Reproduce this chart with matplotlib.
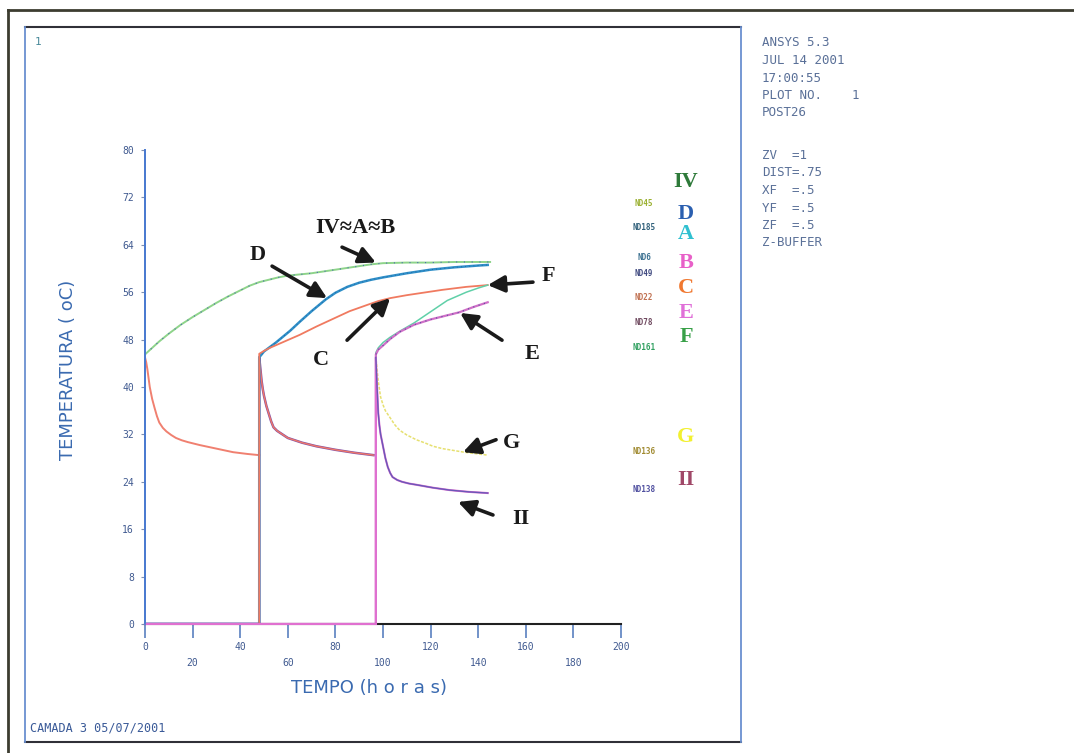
import matplotlib
matplotlib.use("Agg")
import matplotlib.pyplot as plt
from matplotlib.lines import Line2D

W, H = 1074, 753

# --- temperaturas nodais (horas, oC) ---
t_IV = [0, 3, 6, 10, 15, 20, 25, 30, 35, 40, 44, 48, 52, 56, 60, 65, 70, 75, 80, 85, 90, 95, 100, 110, 120, 130, 140, 145]
T_IV = [45.5, 46.6, 47.7, 49.0, 50.5, 51.8, 53.0, 54.2, 55.3, 56.3, 57.1, 57.7, 58.1, 58.5, 58.8, 59.0, 59.2, 59.5, 59.8, 60.1, 60.4, 60.7, 60.9, 61.0, 61.0, 61.1, 61.1, 61.1]

t_D = [48, 50, 52, 55, 58, 61, 65, 70, 76, 80, 85, 90, 95, 100, 110, 120, 130, 140, 144]
T_D = [45.0, 46.0, 46.6, 47.5, 48.5, 49.5, 51.0, 52.8, 54.8, 55.9, 56.9, 57.6, 58.1, 58.5, 59.2, 59.8, 60.2, 60.5, 60.6]

t_C = [48, 50, 53, 57, 61, 65, 72, 79, 86, 93, 98, 103, 110, 115, 125, 135, 144]
T_C = [45.6, 46.1, 46.7, 47.4, 48.1, 48.8, 50.2, 51.5, 52.8, 53.8, 54.5, 55.0, 55.5, 55.8, 56.4, 56.9, 57.2]

t_F = [97, 98, 100, 103, 107, 113, 120, 127, 135, 140, 144]
T_F = [45.8, 46.6, 47.5, 48.4, 49.4, 50.8, 52.7, 54.6, 56.0, 56.7, 57.2]

t_E = [97, 98, 100, 103, 107, 113, 120, 127, 132, 138, 144]
T_E = [45.5, 46.3, 47.0, 48.1, 49.3, 50.5, 51.4, 52.1, 52.6, 53.5, 54.3]

t_G = [97, 98, 99, 100, 101, 103, 105, 107, 110, 114, 118, 121, 125, 128, 134, 140, 144]
T_G = [45.0, 41.0, 38.3, 37.0, 36.0, 34.8, 33.6, 32.7, 31.9, 31.1, 30.5, 30.0, 29.6, 29.4, 29.0, 28.7, 28.5]

t_II = [97, 97.5, 98, 98.5, 99, 100, 101, 102, 103, 104, 106, 108, 111, 114, 121, 128, 136, 144]
T_II = [45.0, 40.0, 35.6, 33.5, 32.0, 30.0, 28.0, 26.5, 25.5, 24.8, 24.3, 24.0, 23.7, 23.5, 23.0, 22.6, 22.3, 22.1]

# superficie das camadas 1 e 2 (resfriamento)
t_sup1 = [0, 0.5, 1, 1.5, 2, 3, 4, 5, 6, 7.5, 9, 11, 13, 15.5, 18, 23, 30, 37, 43, 48]
T_sup1 = [45.0, 44.2, 43.0, 41.5, 40.0, 38.0, 36.5, 35.1, 34.0, 33.1, 32.5, 31.9, 31.4, 31.0, 30.7, 30.2, 29.6, 29.0, 28.7, 28.5]
t_sup2 = [48, 48.5, 49, 49.5, 50, 51, 52, 53, 54, 55.5, 57, 60, 63, 66, 72, 80, 88, 96]
T_sup2 = [45.0, 43.0, 41.0, 39.6, 38.5, 36.8, 35.5, 34.2, 33.2, 32.6, 32.2, 31.4, 31.0, 30.6, 30.0, 29.4, 28.9, 28.5]

y_ticks = [0, 8, 16, 24, 32, 40, 48, 56, 64, 72, 80]
x_ticks = [0, 20, 40, 60, 80, 100, 120, 140, 160, 180, 200]

nd_labels = ["ND45", "ND185", "ND6", "ND49", "ND22", "ND78", "ND161", "ND136", "ND138"]
nd_colors = ["#9ab030", "#30607a", "#3a7090", "#404a80", "#c07050", "#704a60", "#30a060", "#a08a30", "#5050a0"]
nd_y = [203, 227, 258, 273, 298, 322, 347, 452, 490]

letters = ["IV", "D", "A", "B", "C", "E", "F", "G", "II"]
letter_colors = ["#2e7a3a", "#2a5fb0", "#30c0d0", "#e860c8", "#f07830", "#e070d8", "#38a048", "#f2f030", "#a04868"]
letter_y = [182, 214, 234, 263, 288, 313, 337, 437, 480]

info_lines = ["ANSYS 5.3", "JUL 14 2001", "17:00:55", "PLOT NO.    1", "POST26", "",
              "ZV  =1", "DIST=.75", "XF  =.5", "YF  =.5", "ZF  =.5", "Z-BUFFER"]


def born(t, T):
    # no que nasce em t[0]: temperatura zero antes disso
    return [0, t[0]] + list(t), [0, 0] + list(T)


def fx(x):
    return x / W


def fy(y):
    return 1 - y / H


fig = plt.figure(figsize=(W / 100, H / 100), dpi=100)
fig.patch.set_facecolor("white")

# molduras
fig.add_artist(Line2D([fx(8), 1], [fy(10), fy(10)], color="#3c3c30", lw=2))
fig.add_artist(Line2D([fx(8), fx(8)], [fy(10), 0], color="#3c3c30", lw=2))
fig.add_artist(Line2D([fx(25), fx(741)], [fy(27), fy(27)], color="#303038", lw=1.5))
fig.add_artist(Line2D([fx(25), fx(741)], [fy(742), fy(742)], color="#303038", lw=1.5))
fig.add_artist(Line2D([fx(25), fx(25)], [fy(27), fy(742)], color="#6a90d0", lw=1.3))
fig.add_artist(Line2D([fx(741), fx(741)], [fy(27), fy(742)], color="#6a90d0", lw=1.3))

ax = fig.add_axes([fx(145), fy(624), (621 - 145) / W, (624 - 150) / H])
ax.set_xlim(0, 200)
ax.set_ylim(0, 80)
for s in ["top", "right"]:
    ax.spines[s].set_visible(False)
ax.spines["left"].set_color("#4a7ad0")
ax.spines["left"].set_linewidth(1.3)
ax.spines["bottom"].set_color("#202020")
ax.spines["bottom"].set_linewidth(1.5)

mono = "DejaVu Sans Mono"
ax.set_yticks(y_ticks)
ax.set_yticklabels([str(v) for v in y_ticks], fontsize=7, family=mono, color="#405a90")
ax.tick_params(axis="y", direction="out", length=3, width=0.8, color="#8090b0", pad=5)
ax.set_xticks(x_ticks)
ax.set_xticklabels([str(v) if i % 2 == 0 else "\n" + str(v) for i, v in enumerate(x_ticks)],
                   fontsize=7, family=mono, color="#405a90", linespacing=1.8)
ax.tick_params(axis="x", direction="out", length=10, width=1.2, color="#5a80c0", pad=3)

# curvas
ax.plot(t_sup1, T_sup1, color="#f08070", lw=1.4)
x, y = born(t_sup2, T_sup2)
ax.plot(x, y, color="#8050a8", lw=1.8)
ax.plot(x, y, color="#f07868", lw=1.0)
x, y = born(t_D, T_D)
ax.plot(x, y, color="#2f8fc8", lw=1.8)
ax.plot(t_D, T_D, color="#1e5a9a", lw=0.6, ls=(0, (1, 4)))
x, y = born(t_C, T_C)
ax.plot(x, y, color="#f07a60", lw=1.3)
ax.plot(t_IV, T_IV, color="#8ed48a", lw=1.4)
ax.plot(t_IV, T_IV, color="#4a6ab0", lw=0.8, ls=(0, (1, 6)))
x, y = born(t_G, T_G)
ax.plot(x, y, color="#e6e070", lw=1.1, ls=(0, (2, 1)))
x, y = born(t_F, T_F)
ax.plot(x, y, color="#60d0a8", lw=1.1)
x, y = born(t_E, T_E)
ax.plot(x, y, color="#d070c8", lw=1.6)
ax.plot(t_E, T_E, color="#5a4aa0", lw=0.8, ls=(0, (1, 4)))
x, y = born(t_II, T_II)
ax.plot(x, y, color="#e070d0", lw=1.5)
ax.plot(t_II, T_II, color="#6a58b8", lw=1.0)
ax.plot([0, 97], [0, 0], color="#e070d0", lw=1.5, clip_on=False, zorder=3)
ax.plot([0, 0], [0, 80], color="#4a7ad0", lw=1.3, clip_on=False, zorder=3)

# setas de identificacao
arrows = [
    ("IV\u2248A\u2248B", (88.2, 66.8), (82.8, 63.6), (97.0, 61.0)),
    ("D", (47.5, 62.3), (53.4, 60.4), (76.5, 55.0)),
    ("C", (74.0, 44.6), (84.9, 47.9), (103.0, 55.0)),
    ("F", (169.5, 58.7), (163.0, 57.7), (144.0, 57.2)),
    ("E", (162.8, 45.6), (150.0, 47.9), (132.4, 52.5)),
    ("G", (153.8, 30.5), (147.5, 31.1), (133.6, 29.0)),
    ("II", (158.0, 17.7), (146.2, 18.4), (131.5, 20.6)),
]
for txt, pos, tail, tip in arrows:
    ax.text(pos[0], pos[1], txt, family="Liberation Serif", weight="bold", fontsize=16,
            color="#1a1a1a", ha="center", va="center", clip_on=False)
    ax.annotate("", xy=tip, xytext=tail, annotation_clip=False,
                arrowprops=dict(arrowstyle="-|>,head_length=1.0,head_width=0.5",
                                color="#1a1a1a", lw=2.6, shrinkA=0, shrinkB=0))

fig.text(fx(68), fy(370), "TEMPERATURA ( oC)", rotation=90, ha="center", va="center",
         fontsize=13, color="#3a6ab0")
fig.text(fx(369), fy(688), "TEMPO (h o r a s)", ha="center", va="center",
         fontsize=13, color="#3a6ab0")

for lab, c, yy in zip(nd_labels, nd_colors, nd_y):
    fig.text(fx(644), fy(yy), lab, ha="center", va="center", fontsize=5.5,
             family=mono, weight="bold", color=c)
for lab, c, yy in zip(letters, letter_colors, letter_y):
    fig.text(fx(686), fy(yy), lab, ha="center", va="center", fontsize=16,
             family="Liberation Serif", weight="bold", color=c)

yy = 43
for line in info_lines:
    if line:
        fig.text(fx(762), fy(yy), line, ha="left", va="center", fontsize=9,
                 family=mono, color="#5a7098")
    yy += 17.5 if line else 25

fig.text(fx(35), fy(42), "1", fontsize=8, family=mono, color="#4a8a9a", va="center")
fig.text(fx(30), fy(728), "CAMADA 3 05/07/2001", fontsize=8.5, family=mono,
         color="#3a5a98", va="center")

fig.savefig("out.png", dpi=100)
